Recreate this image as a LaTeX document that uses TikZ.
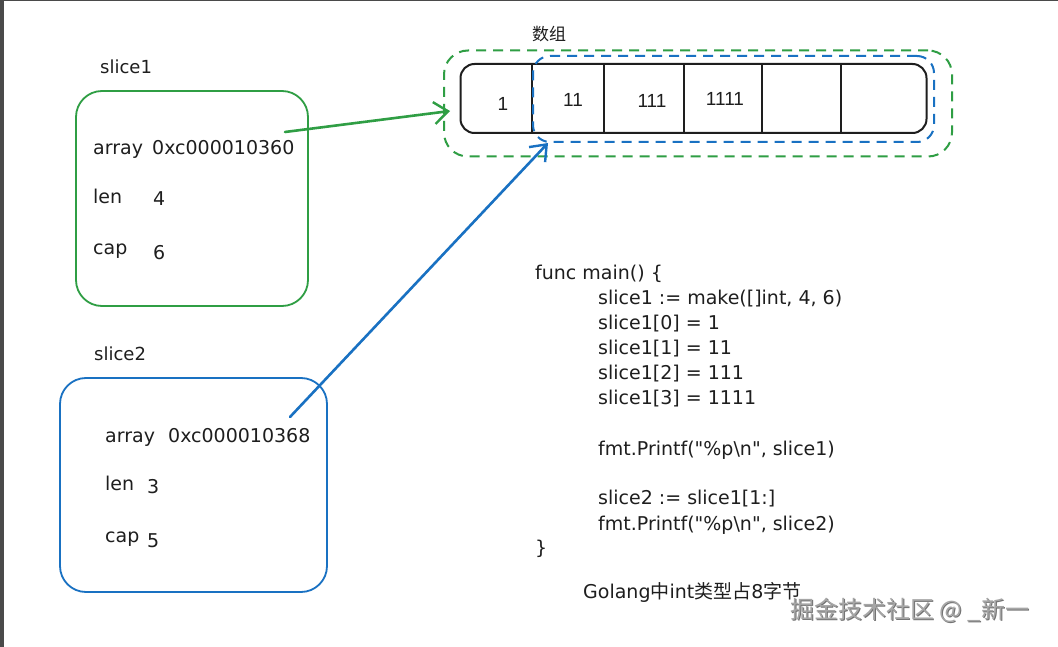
\documentclass[tikz,border=0pt]{standalone}
\usepackage{fontspec}
\setmainfont{DejaVu Sans}
\newfontfamily\codef{DejaVu Sans}
\newfontfamily\cjk{Noto Sans CJK SC}
\newfontfamily\arialf{Liberation Sans}
\usetikzlibrary{arrows.meta}
\definecolor{exgreen}{HTML}{2F9E44}
\definecolor{exblue}{HTML}{1971C2}
\definecolor{exblack}{HTML}{1E1E1E}
\definecolor{edge}{HTML}{4A4A4A}
\begin{document}
\begin{tikzpicture}[x=1pt,y=-1pt,
  txt/.style={anchor=mid west, inner sep=0pt, text=exblack, font=\fontsize{19}{22}\selectfont},
  lbl/.style={anchor=mid west, inner sep=0pt, text=exblack, font=\fontsize{18}{22}\selectfont},
  code/.style={anchor=mid west, inner sep=0pt, text=exblack, font=\codef\fontsize{19}{22}\selectfont},
  num/.style={inner sep=0pt, text=exblack, font=\arialf\fontsize{19}{22}\selectfont},
  slicebox/.style={draw, line width=1.8pt, rounded corners=26pt, inner sep=0pt},
  dashbox/.style={draw, line width=2pt, dash pattern=on 10pt off 7pt, inner sep=0pt},
  ptr/.style={line width=2.6pt, line cap=round, -{Straight Barb[length=14pt,width=22pt,line width=2.4pt]}},
]
\useasboundingbox[fill=white] (0,0) rectangle (1058,647);
% screen edge strips
\fill[edge] (0,0) rectangle (1058,1.5);
\fill[edge] (0,0) rectangle (3.5,647);

% slice1
\node[lbl] (s1label) at (100,71) {slice1};
\node[slicebox, draw=exgreen, minimum width=232pt, minimum height=215pt] (box1) at (192,198.5) {};
\node[txt] (s1arr) at (93,152) {array};
\node[txt] (s1addr) at (152,152) {0xc000010360};
\node[txt] (s1len) at (93,201) {len};
\node[txt] (s1lenv) at (153,203) {4};
\node[txt] (s1cap) at (93,252) {cap};
\node[txt] (s1capv) at (153,257) {6};

% slice2
\node[lbl] (s2label) at (94,358) {slice2};
\node[slicebox, draw=exblue, minimum width=267pt, minimum height=214pt] (box2) at (193.5,485) {};
\node[txt] (s2arr) at (105,440) {array};
\node[txt] (s2addr) at (168,440) {0xc000010368};
\node[txt] (s2len) at (105,488) {len};
\node[txt] (s2lenv) at (147,491) {3};
\node[txt] (s2cap) at (105,540) {cap};
\node[txt] (s2capv) at (147,545) {5};

% array
\node[inner sep=0pt, text=exblack, font=\cjk\fontsize{17}{20}\selectfont] (title) at (549,34) {数组};
\node[dashbox, draw=exgreen, rounded corners=24pt, minimum width=508pt, minimum height=106pt] (gdash) at (698,103.5) {};
\node[draw=exblack, line width=2pt, rounded corners=14pt, inner sep=0pt, minimum width=466pt, minimum height=69pt] (arr) at (693.5,98.5) {};
\foreach \i/\xx in {1/532,2/604,3/684,4/762,5/841}
  \draw[exblack, line width=2pt] (\xx,64) -- (\xx,133);
\node[dashbox, draw=exblue, rounded corners=17pt, minimum width=401pt, minimum height=86pt] (bdash) at (733.5,99) {};
\node[num] (v0) at (503,104) {1};
\node[num] (v1) at (573,100) {11};
\node[num] (v2) at (652,101) {111};
\node[num] (v3) at (725,99) {1111};

% pointers
\coordinate (g1) at (285,132);
\coordinate (g2) at (450,111);
\draw[ptr, exgreen] (g1) -- (g2);
\coordinate (b1) at (290,417);
\coordinate (b2) at (548,143);
\draw[ptr, exblue] (b1) -- (b2);

% code
\node[code] (c0) at (535,277) {func main() \{};
\node[code] (c1) at (598,302) {slice1 := make([]int, 4, 6)};
\node[code] (c2) at (598,327) {slice1[0] = 1};
\node[code] (c3) at (598,352) {slice1[1] = 11};
\node[code] (c4) at (598,377) {slice1[2] = 111};
\node[code] (c5) at (598,402) {slice1[3] = 1111};
\node[code] (c6) at (598,453) {fmt.Printf("\%p\textbackslash n", slice1)};
\node[code] (c7) at (598,502) {slice2 := slice1[1:]};
\node[code] (c8) at (598,528) {fmt.Printf("\%p\textbackslash n", slice2)};
\node[code] (c9) at (535,552) {\}};
\node[code] (note) at (583,596) {Golang{\cjk 中}int{\cjk 类型占}8{\cjk 字节}};

% watermark
\node[anchor=mid west, inner sep=0pt, text=black!55, font=\cjk\fontsize{24}{27}\selectfont] (wms) at (791,617) {掘金技术社区 @ \_新一};
\node[anchor=mid west, inner sep=0pt, text=black!35, font=\cjk\fontsize{24}{27}\selectfont] (wm) at (790,616) {掘金技术社区 @ \_新一};
\end{tikzpicture}
\end{document}
